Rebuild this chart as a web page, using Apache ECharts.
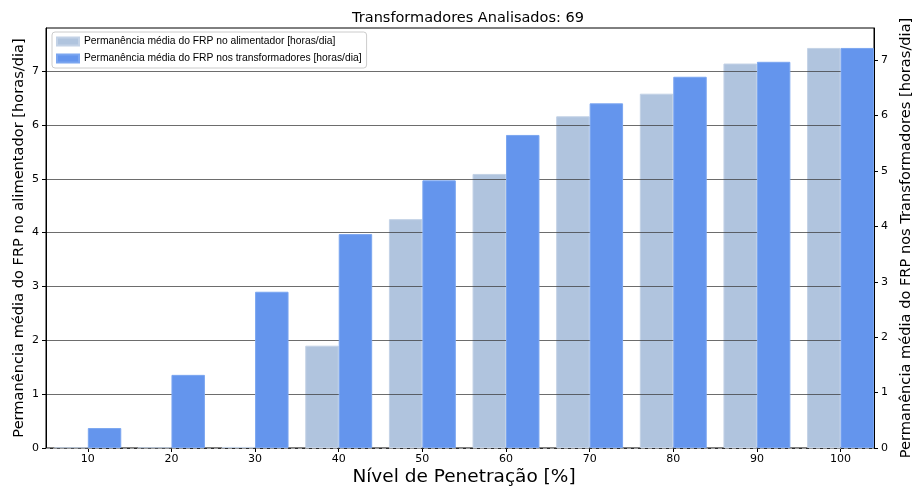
<!DOCTYPE html>
<html>
<head>
<meta charset="utf-8">
<script src="https://cdn.jsdelivr.net/npm/echarts@6/dist/echarts.min.js"></script>
<style>
  html, body { margin: 0; padding: 0; background: #fff; }
  #chart { width: 914px; height: 488px; }
</style>
</head>
<body>
<div id="chart"></div>
<script>
// Penetration levels [%]
const niveis = [10, 20, 30, 40, 50, 60, 70, 80, 90, 100];
// Mean FRP duration on the feeder [hours/day] (left axis)
const permAlimentador = [0, 0, 0.02, 1.90, 4.25, 5.09, 6.16, 6.58, 7.14, 7.43];
// Mean FRP duration on the transformers [hours/day] (right axis)
const permTransformadores = [0.36, 1.32, 2.82, 3.86, 4.83, 5.65, 6.22, 6.70, 6.97, 7.22];
// Tick values
const yTicks = [0, 1, 2, 3, 4, 5, 6, 7];

const nomeAlim = 'Permanência média do FRP no alimentador [horas/dia]';
const nomeTrafo = 'Permanência média do FRP nos transformadores [horas/dia]';

const FONT = 'DejaVu Sans';

const chart = echarts.init(document.getElementById('chart'), null, { renderer: 'canvas' });

chart.setOption({
  animation: false,
  backgroundColor: '#fff',
  textStyle: { fontFamily: FONT },
  title: {
    text: 'Transformadores Analisados: 69',
    left: 463,
    top: 6,
    textAlign: 'center',
    textStyle: { fontFamily: FONT, fontSize: 14.5, fontWeight: 'normal', color: '#000' }
  },
  legend: {
    orient: 'vertical',
    left: 52,
    top: 32,
    padding: [3, 5, 3, 4],
    itemGap: 4,
    itemWidth: 22,
    itemHeight: 8,
    backgroundColor: 'rgba(255,255,255,0.85)',
    borderColor: '#ccc',
    borderWidth: 1,
    borderRadius: 3,
    icon: 'rect',
    textStyle: { fontFamily: 'Liberation Sans', fontSize: 10.3, color: '#000', lineHeight: 13 },
    data: [nomeAlim, nomeTrafo]
  },
  grid: {
    left: 46, right: 40, top: 28, bottom: 40,
    outerBoundsMode: 'none',
    containLabel: false,
    show: true, borderColor: '#000', borderWidth: 1, backgroundColor: 'transparent'
  },
  xAxis: {
    type: 'value',
    min: 5,
    max: 104,
    name: 'Nível de Penetração [%]',
    nameLocation: 'middle',
    nameGap: 20,
    nameMoveOverlap: false,
    nameTextStyle: { fontFamily: FONT, fontSize: 18.5, color: '#000', padding: [0, 0, 0, 8] },
    axisLine: { show: true, lineStyle: { color: '#000', width: 1 } },
    axisTick: { show: true, length: 4, lineStyle: { color: '#000' }, customValues: niveis },
    axisLabel: { fontFamily: FONT, fontSize: 11, color: '#000', margin: 6, customValues: niveis },
    splitLine: { show: false }
  },
  yAxis: [
    {
      type: 'value',
      min: 0,
      max: 7.8,
      interval: 1,
      z: 2.5,
      name: 'Permanência média do FRP no alimentador [horas/dia]',
      nameLocation: 'middle',
      nameRotate: 90,
      nameGap: 19,
      nameMoveOverlap: false,
      nameTextStyle: { fontFamily: FONT, fontSize: 14.6, color: '#000' },
      axisLine: { show: true, lineStyle: { color: '#000', width: 1 } },
      axisTick: { show: true, length: 4, lineStyle: { color: '#000' }, customValues: yTicks },
      axisLabel: { fontFamily: FONT, fontSize: 11, color: '#000', margin: 7, customValues: yTicks },
      splitLine: { show: true, lineStyle: { color: 'rgba(60,60,60,0.75)', width: 1 } }
    },
    {
      type: 'value',
      min: 0,
      max: 7.58,
      interval: 1,
      position: 'right',
      name: 'Permanência média do FRP nos Transformadores [horas/dia]',
      nameLocation: 'middle',
      nameRotate: 90,
      nameGap: 24,
      nameTextStyle: { fontFamily: FONT, fontSize: 14.6, color: '#000' },
      axisLine: { show: true, lineStyle: { color: '#000', width: 1 } },
      axisTick: { show: true, length: 4, lineStyle: { color: '#000' }, customValues: yTicks },
      axisLabel: { fontFamily: FONT, fontSize: 11, color: '#000', margin: 7, customValues: yTicks },
      splitLine: { show: false }
    }
  ],
  series: [
    {
      name: nomeAlim,
      type: 'bar',
      xAxisIndex: 0,
      yAxisIndex: 0,
      z: 2,
      barWidth: '40%',
      barGap: '0%',
      itemStyle: { color: '#B0C4DE', borderColor: '#C3D2E6', borderWidth: 1 },
      data: niveis.map((n, i) => [n, permAlimentador[i]]),
      markLine: {
        silent: true,
        symbol: 'none',
        label: { show: false },
        lineStyle: { color: '#9a9a9a', type: [4, 3], width: 1 },
        data: [{ yAxis: 0 }]
      }
    },
    {
      name: nomeTrafo,
      type: 'bar',
      xAxisIndex: 0,
      yAxisIndex: 1,
      z: 3,
      barWidth: '40%',
      barGap: '0%',
      itemStyle: { color: '#6495ED', borderColor: '#7BA6F0', borderWidth: 1 },
      data: niveis.map((n, i) => [n, permTransformadores[i]])
    }
  ]
});
</script>
</body>
</html>
